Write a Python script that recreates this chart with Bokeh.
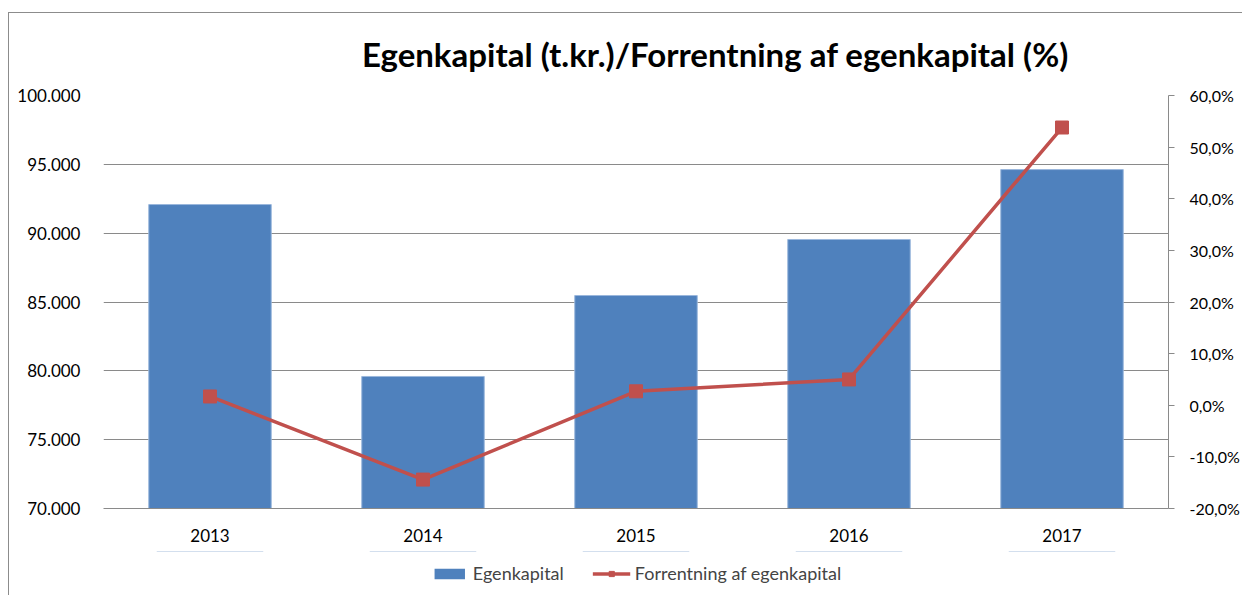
from bokeh.plotting import figure
from bokeh.layouts import column
from bokeh.models import (Range1d, LinearAxis, FixedTicker, Legend, LegendItem, Div)
from bokeh.embed import file_html
from bokeh.resources import INLINE

years = ["2013", "2014", "2015", "2016", "2017"]
egenkapital = [92080, 79590, 85470, 89540, 94620]
forrentning = [1.7, -14.4, 2.7, 5.0, 53.8]

left_ticks = [70000, 75000, 80000, 85000, 90000, 95000, 100000]
left_labels = ["70.000", "75.000", "80.000", "85.000", "90.000", "95.000", "100.000"]
right_ticks = [-20, -10, 0, 10, 20, 30, 40, 50, 60]
right_labels = ["-20,0%", "-10,0%", "0,0%", "10,0%", "20,0%", "30,0%", "40,0%", "50,0%", "60,0%"]
series_names = ["Egenkapital", "Forrentning af egenkapital"]

title_text = "Egenkapital (t.kr.)/Forrentning af egenkapital (%)"
FONT = "Lato"
GRID = "#8a8a8a"
BAR = "#4F81BD"
LINE = "#C0504D"

# title
title_div = Div(text=('<div style="padding:22px 0 0 353px; margin:0; font-family:Lato; '
                      'font-weight:bold; font-size:33px; line-height:1.2; color:#000; '
                      'white-space:nowrap;">' + title_text + '</div>'),
                width=1233, height=72, margin=0)

p = figure(x_range=years, y_range=Range1d(70000, 100000), title=None,
           frame_width=1065, frame_height=413,
           output_backend="svg", toolbar_location=None,
           min_border_left=94, min_border_right=74, min_border_top=10, min_border_bottom=43)
p.outline_line_color = None

p.extra_y_ranges = {"pct": Range1d(-20, 60)}

p.vbar(x=years, top=egenkapital, bottom=70000, width=0.575, fill_color=BAR,
       line_color="#9ab7dc", line_width=1)
p.line(x=years, y=forrentning, y_range_name="pct", line_color=LINE, line_width=3.5)
p.scatter(x=years, y=forrentning, y_range_name="pct", marker="square", size=13,
          fill_color=LINE, line_color=LINE)

# left axis
ya = p.yaxis[0]
ya.ticker = FixedTicker(ticks=left_ticks)
ya.major_label_overrides = {t: l for t, l in zip(left_ticks, left_labels)}
ya.axis_line_color = None
ya.major_tick_line_color = None
ya.minor_tick_line_color = None
ya.major_label_standoff = 17
ya.major_label_text_font = FONT
ya.major_label_text_font_size = "17px"
ya.major_label_text_color = "#000000"

# right axis
ra = LinearAxis(y_range_name="pct", ticker=FixedTicker(ticks=right_ticks))
ra.major_label_overrides = {t: l for t, l in zip(right_ticks, right_labels)}
ra.axis_line_color = GRID
ra.major_tick_line_color = GRID
ra.major_tick_in = 0
ra.major_tick_out = 6
ra.minor_tick_line_color = None
ra.major_label_standoff = 15
ra.major_label_text_font = FONT
ra.major_label_text_font_size = "16px"
ra.major_label_text_color = "#000000"
p.add_layout(ra, "right")

# x axis
xa = p.xaxis[0]
xa.axis_line_color = GRID
xa.major_tick_line_color = None
xa.minor_tick_line_color = None
xa.major_label_standoff = 14
xa.major_label_text_font = FONT
xa.major_label_text_font_size = "17px"
xa.major_label_text_color = "#000000"

p.xgrid.grid_line_color = None
p.ygrid.grid_line_color = GRID
p.ygrid.ticker = FixedTicker(ticks=left_ticks)

# legend strip below the chart: same series drawn out of view, only the legend shows
lg = figure(width=1233, height=44, output_backend="svg", toolbar_location=None,
            x_range=years, y_range=Range1d(-1000, -999), min_border=0, title=None)
lg.axis.visible = False
lg.grid.visible = False
lg.outline_line_color = None
r_bar = lg.vbar(x=years, top=egenkapital, bottom=70000, width=0.5, fill_color=BAR,
                line_color=None)
r_line = lg.line(x=years, y=forrentning, line_color=LINE, line_width=3.5)
r_mk = lg.scatter(x=years, y=forrentning, marker="square", size=11,
                  fill_color=LINE, line_color=LINE)
legend = Legend(items=[LegendItem(label=series_names[0], renderers=[r_bar]),
                       LegendItem(label=series_names[1], renderers=[r_line, r_mk])],
                orientation="horizontal", location="center",
                border_line_color=None, background_fill_alpha=0,
                label_text_font=FONT, label_text_font_size="18px",
                glyph_width=38, glyph_height=13, spacing=28, padding=0, margin=0,
                label_standoff=5)
lg.add_layout(legend, "center")

layout = column(title_div, p, lg, spacing=0)
layout.styles = {"margin-left": "8px", "margin-top": "12px",
                 "border-left": "1px solid #8c8c8c", "border-top": "1px solid #8c8c8c"}

open("out.html", "w").write(file_html(layout, INLINE))
